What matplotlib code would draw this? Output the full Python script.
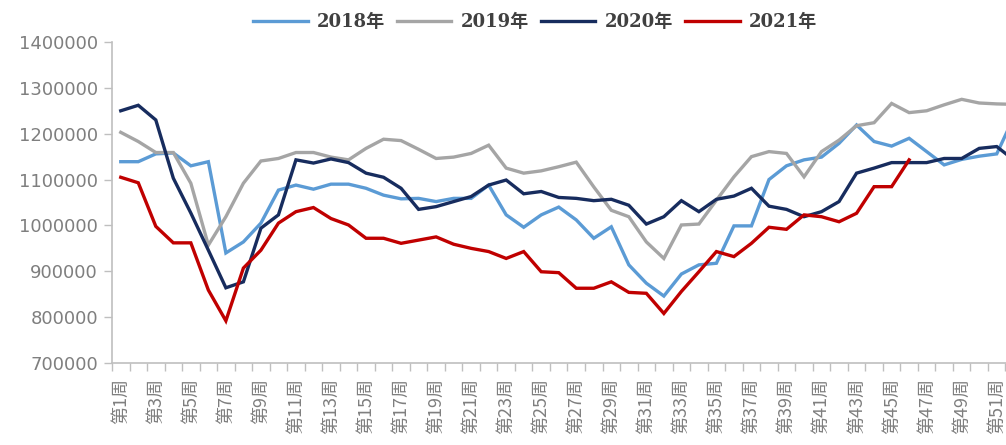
import matplotlib
matplotlib.use("Agg")
import matplotlib.pyplot as plt
from matplotlib.ticker import FixedLocator

# weekly values
weeks = [f"第{i}周" for i in range(1, 53)]

y2018 = [1139000, 1139000, 1156000, 1158000, 1130000, 1139000, 940000, 964000, 1005000, 1077000,
         1088000, 1079000, 1090000, 1090000, 1081000, 1066000, 1058000, 1059000, 1052000, 1059000,
         1059000, 1088000, 1023000, 996000, 1023000, 1040000, 1012000, 972000, 997000, 914000,
         874000, 846000, 894000, 914000, 917500, 999000, 999000, 1100000, 1130000, 1143000,
         1149000, 1179000, 1219000, 1183000, 1173000, 1190000, 1161000, 1132000, 1144000, 1151000,
         1156000, 1238000]
y2019 = [1203000, 1183000, 1159000, 1159000, 1092000, 957000, 1019000, 1092000, 1140500, 1146000,
         1159000, 1159000, 1149000, 1143000, 1168000, 1188000, 1185000, 1166000, 1146000, 1149000,
         1157000, 1175000, 1125000, 1114000, 1119000, 1128000, 1138000, 1084000, 1033000, 1019000,
         964000, 928000, 1001000, 1003000, 1055000, 1106000, 1150000, 1161000, 1157000, 1106000,
         1161000, 1186000, 1217500, 1224000, 1266000, 1246000, 1250000, 1263000, 1275000, 1267000,
         1265000, 1264000]
y2020 = [1250000, 1262000, 1230000, 1103000, 1027000, 946000, 864000, 877000, 994000, 1023000,
         1143000, 1136000, 1145000, 1137000, 1114000, 1105000, 1081000, 1035000, 1041000, 1052000,
         1063000, 1088000, 1099000, 1069000, 1074000, 1061000, 1059000, 1054000, 1057000, 1044000,
         1003000, 1019000, 1054000, 1030000, 1057000, 1064000, 1081000, 1042000, 1035000, 1019000,
         1030000, 1052000, 1114000, 1125000, 1137000, 1137000, 1137000, 1146000, 1146000, 1168000,
         1172000, 1142000]
y2021 = [1105000, 1093000, 998000, 962000, 962000, 859000, 792000, 907000, 946000, 1005000,
         1030000, 1039000, 1015000, 1001000, 972000, 972000, 961000, 968000, 975000, 959000,
         950000, 943000, 928000, 943000, 899000, 897000, 863000, 863000, 877000, 854000,
         852000, 808000, 856000, 899000, 943000, 932000, 961000, 996000, 991500, 1023000,
         1019000, 1008000, 1026500, 1084500, 1084500, 1143000]

series = [
    ("2018年", y2018, "#5b9bd5"),
    ("2019年", y2019, "#a5a5a5"),
    ("2020年", y2020, "#172c5e"),
    ("2021年", y2021, "#c00000"),
]

axis_grey = "#bfbfbf"
text_grey = "#7f7f7f"

fig = plt.figure(figsize=(10.06, 4.45), dpi=100)
# the plot area runs past the right edge of the picture, as in the reference
ax = fig.add_axes([112 / 1006, 1 - 363 / 445, 911 / 1006, 321 / 445])

for name, vals, color in series:
    xs = list(range(1, len(vals) + 1))
    ax.plot(xs, vals, color=color, lw=2.4, label=name, solid_joinstyle="miter")

ax.set_xlim(0.5, 52.5)
ax.set_ylim(700000, 1400000)
ax.set_yticks(range(700000, 1400001, 100000))
ax.set_yticklabels([str(v) for v in range(700000, 1400001, 100000)],
                   color=text_grey, fontsize=13)

odd = list(range(1, 53, 2))
ax.set_xticks(odd)
ax.set_xticklabels([weeks[i - 1] for i in odd], rotation=90,
                   family=["Noto Sans CJK SC", "DejaVu Sans"], fontsize=13, color=text_grey)
ax.xaxis.set_minor_locator(FixedLocator([i + 0.5 for i in range(0, 53)]))
ax.tick_params(axis="x", which="major", length=0, pad=11)
ax.tick_params(axis="x", which="minor", length=6, color=axis_grey, width=1)
ax.tick_params(axis="y", length=6, color=axis_grey, width=1, pad=4)

for side in ("top", "right"):
    ax.spines[side].set_visible(False)
for side in ("left", "bottom"):
    ax.spines[side].set_color(axis_grey)
    ax.spines[side].set_linewidth(1.2)

fig.legend(loc="center", bbox_to_anchor=(535 / 1006, 1 - 22 / 445), ncol=4, frameon=False,
           handlelength=3.0, handletextpad=0.5, columnspacing=0.7,
           prop={"family": ["DejaVu Serif", "Noto Sans CJK SC"], "size": 13, "weight": "bold"},
           labelcolor="#404040")

fig.savefig("out.png", dpi=100)
